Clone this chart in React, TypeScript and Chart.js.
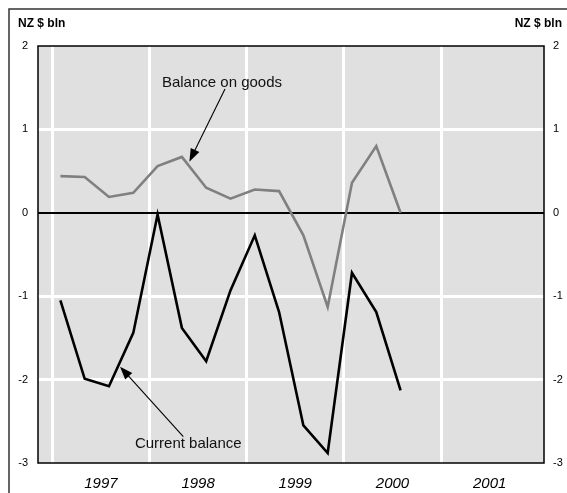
import React, { useEffect, useRef } from "react";
import { Chart, registerables } from "chart.js";

Chart.register(...registerables);

// ---- data ----
const quarters = [
  "1997 Q1", "1997 Q2", "1997 Q3", "1997 Q4",
  "1998 Q1", "1998 Q2", "1998 Q3", "1998 Q4",
  "1999 Q1", "1999 Q2", "1999 Q3", "1999 Q4",
  "2000 Q1", "2000 Q2", "2000 Q3",
];
const balanceOnGoods = [0.44, 0.43, 0.19, 0.24, 0.56, 0.67, 0.30, 0.17, 0.28, 0.26, -0.27, -1.13, 0.36, 0.80, 0.0];
const currentBalance = [-1.05, -1.99, -2.08, -1.44, -0.02, -1.38, -1.78, -0.93, -0.27, -1.19, -2.55, -2.88, -0.72, -1.19, -2.13];
const yearTicks = [1997, 1998, 1999, 2000, 2001];
const yTicks = [2, 1, 0, -1, -2, -3];
const unitLabel = "NZ $ bln";

// annotations (data coordinates)
const goodsLabel = { text: "Balance on goods", x: 1998.746, y: 1.556 };
const goodsArrow = { x1: 1998.777, y1: 1.484, x2: 1998.41, y2: 0.613 };
const currentLabel = { text: "Current balance", x: 1998.399, y: -2.776 };
const currentArrow = { x1: 1998.348, y1: -2.685, x2: 1997.697, y2: -1.845 };

const FONT = "'Liberation Sans', Arial, sans-serif";
const X_MIN = 1996.853;
const X_MAX = 2002.059;

function quarterToX(q: string): number {
  const [y, qq] = q.split(" Q");
  return Number(y) + (Number(qq) - 1) / 4 + 1 / 12;
}

function drawArrow(ctx: CanvasRenderingContext2D, x1: number, y1: number, x2: number, y2: number) {
  const ang = Math.atan2(y2 - y1, x2 - x1);
  const headLen = 13;
  const headW = 4.8;
  ctx.save();
  ctx.strokeStyle = "#000";
  ctx.fillStyle = "#000";
  ctx.lineWidth = 1.1;
  ctx.beginPath();
  ctx.moveTo(x1, y1);
  ctx.lineTo(x2 - Math.cos(ang) * headLen * 0.8, y2 - Math.sin(ang) * headLen * 0.8);
  ctx.stroke();
  ctx.beginPath();
  ctx.moveTo(x2, y2);
  ctx.lineTo(
    x2 - Math.cos(ang) * headLen + Math.sin(ang) * headW,
    y2 - Math.sin(ang) * headLen - Math.cos(ang) * headW
  );
  ctx.lineTo(
    x2 - Math.cos(ang) * headLen - Math.sin(ang) * headW,
    y2 - Math.sin(ang) * headLen + Math.cos(ang) * headW
  );
  ctx.closePath();
  ctx.fill();
  ctx.restore();
}

const decorPlugin = {
  id: "decor",
  beforeDraw(chart: any) {
    const { ctx, chartArea } = chart;
    ctx.save();
    ctx.fillStyle = "#ffffff";
    ctx.fillRect(0, 0, chart.width, chart.height);
    ctx.fillStyle = "#e0e0e0";
    ctx.fillRect(chartArea.left, chartArea.top, chartArea.right - chartArea.left, chartArea.bottom - chartArea.top);
    ctx.restore();
  },
  afterDraw(chart: any) {
    const { ctx, chartArea, scales } = chart;
    ctx.save();
    // plot border
    ctx.strokeStyle = "#000";
    ctx.lineWidth = 1.5;
    ctx.strokeRect(chartArea.left, chartArea.top, chartArea.right - chartArea.left, chartArea.bottom - chartArea.top);
    // outer frame
    ctx.strokeStyle = "#333";
    ctx.lineWidth = 1.5;
    ctx.beginPath();
    ctx.moveTo(9, chart.height + 2);
    ctx.lineTo(9, 9);
    ctx.lineTo(chart.width + 2, 9);
    ctx.stroke();
    // unit labels
    ctx.fillStyle = "#000";
    ctx.font = `bold 12px ${FONT}`;
    ctx.textBaseline = "middle";
    ctx.textAlign = "left";
    ctx.fillText(unitLabel, 18, 24);
    ctx.textAlign = "right";
    ctx.fillText(unitLabel, 562, 24);
    // annotations
    const xs = scales.x;
    const ys = scales.y;
    ctx.font = `15px ${FONT}`;
    ctx.textAlign = "center";
    ctx.fillStyle = "#111";
    ctx.fillText(goodsLabel.text, xs.getPixelForValue(goodsLabel.x), ys.getPixelForValue(goodsLabel.y));
    ctx.fillText(currentLabel.text, xs.getPixelForValue(currentLabel.x), ys.getPixelForValue(currentLabel.y));
    drawArrow(
      ctx,
      xs.getPixelForValue(goodsArrow.x1), ys.getPixelForValue(goodsArrow.y1),
      xs.getPixelForValue(goodsArrow.x2), ys.getPixelForValue(goodsArrow.y2)
    );
    drawArrow(
      ctx,
      xs.getPixelForValue(currentArrow.x1), ys.getPixelForValue(currentArrow.y1),
      xs.getPixelForValue(currentArrow.x2), ys.getPixelForValue(currentArrow.y2)
    );
    ctx.restore();
  },
};

export default function App() {
  const ref = useRef<HTMLCanvasElement | null>(null);

  useEffect(() => {
    if (!ref.current) return;
    const xs = quarters.map(quarterToX);
    const yGrid = (c: any) => {
      const v = c.tick.value;
      if (v === 0) return "#000";
      if (v === 2 || v === -3) return "rgba(0,0,0,0)";
      return "#ffffff";
    };
    const chart = new Chart(ref.current, {
      type: "line",
      data: {
        datasets: [
          {
            label: "Balance on goods",
            data: xs.map((x, i) => ({ x, y: balanceOnGoods[i] })),
            borderColor: "#808080",
            borderWidth: 2.6,
            pointRadius: 0,
            tension: 0,
            fill: false,
            xAxisID: "x",
            yAxisID: "y",
          },
          {
            label: "Current balance",
            data: xs.map((x, i) => ({ x, y: currentBalance[i] })),
            borderColor: "#000000",
            borderWidth: 2.6,
            pointRadius: 0,
            tension: 0,
            fill: false,
            xAxisID: "x",
            yAxisID: "y",
          },
        ],
      },
      options: {
        responsive: false,
        animation: false,
        devicePixelRatio: 1,
        layout: { padding: { top: 46, left: 0, right: 0, bottom: 0 } },
        plugins: {
          legend: { display: false },
          tooltip: { enabled: false },
          title: { display: false },
        },
        scales: {
          x: {
            type: "linear",
            position: "bottom",
            min: X_MIN,
            max: X_MAX,
            afterBuildTicks: (s: any) => {
              s.ticks = yearTicks.map((v) => ({ value: v }));
            },
            ticks: { display: false },
            grid: { color: "#ffffff", lineWidth: 3, drawTicks: false },
            border: { display: false },
            afterFit: (s: any) => {
              s.height = 0;
            },
          },
          xYears: {
            type: "linear",
            position: "bottom",
            min: X_MIN,
            max: X_MAX,
            afterBuildTicks: (s: any) => {
              s.ticks = yearTicks.map((v) => ({ value: v + 0.5 }));
            },
            ticks: {
              callback: (v: any) => String(Math.floor(Number(v))),
              font: { family: FONT, size: 15, style: "italic" },
              color: "#000",
              padding: 12,
              maxRotation: 0,
              autoSkip: false,
            },
            grid: { display: false, drawTicks: false },
            border: { display: false },
            afterFit: (s: any) => {
              s.height = 30;
            },
          },
          y: {
            type: "linear",
            position: "left",
            min: -3,
            max: 2,
            afterBuildTicks: (s: any) => {
              s.ticks = yTicks.map((v) => ({ value: v }));
            },
            ticks: {
              font: { family: FONT, size: 11 },
              color: "#000",
              padding: 10,
            },
            grid: {
              color: yGrid,
              lineWidth: (c: any) => (c.tick.value === 0 ? 2 : 3),
              drawTicks: false,
            },
            border: { display: false },
            afterFit: (s: any) => {
              s.width = 38;
            },
          },
          y2: {
            type: "linear",
            position: "right",
            min: -3,
            max: 2,
            afterBuildTicks: (s: any) => {
              s.ticks = yTicks.map((v) => ({ value: v }));
            },
            ticks: {
              font: { family: FONT, size: 11 },
              color: "#000",
              padding: 9,
            },
            grid: { display: false, drawTicks: false },
            border: { display: false },
            afterFit: (s: any) => {
              s.width = 23;
            },
          },
        },
      },
      plugins: [decorPlugin],
    });
    return () => chart.destroy();
  }, []);

  return (
    <div style={{ position: "fixed", left: 0, top: 0, width: 567, height: 493, background: "#fff" }}>
      <canvas ref={ref} width={567} height={493} style={{ width: 567, height: 493, display: "block" }} />
    </div>
  );
}
